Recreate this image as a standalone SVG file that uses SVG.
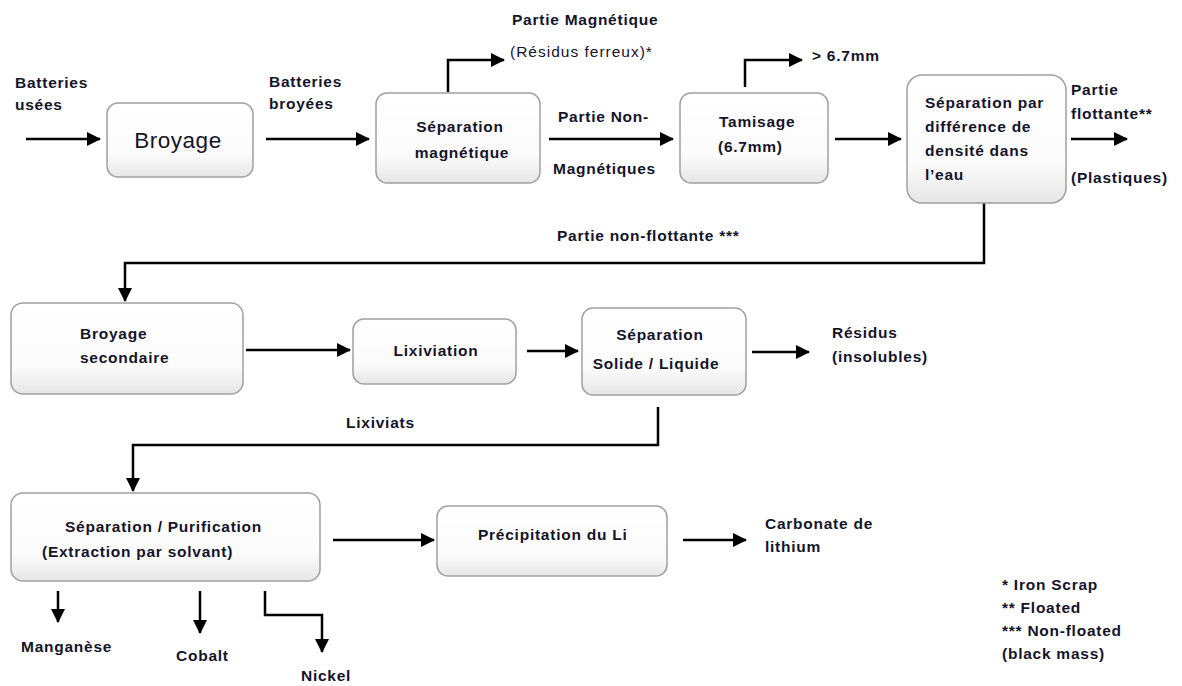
<svg xmlns="http://www.w3.org/2000/svg" width="1182" height="686" viewBox="0 0 1182 686">
<defs>
<linearGradient id="g" x1="0" y1="0" x2="0" y2="1">
<stop offset="0" stop-color="#ffffff"/>
<stop offset="0.7" stop-color="#fbfbfb"/>
<stop offset="1" stop-color="#e6e6e6"/>
</linearGradient>
<marker id="ah" markerWidth="14" markerHeight="14" viewBox="0 0 14 14" refX="13" refY="7" orient="auto" markerUnits="userSpaceOnUse">
<path d="M0,0 L14,7 L0,14 Z" fill="#000"/>
</marker>
</defs>
<style>
.box{fill:url(#g);stroke:#a0a0a0;stroke-width:1.5}
.t{font-family:"Liberation Sans",Arial,sans-serif;font-weight:bold;font-size:15.5px;letter-spacing:0.75px;fill:#14142a}
.n{font-weight:normal}
.c{text-anchor:middle}
.ln{fill:none;stroke:#000;stroke-width:2.5}
</style>
<rect width="1182" height="686" fill="#fff"/>

<g id="connectors">
<path class="ln" d="M26,139 H100" marker-end="url(#ah)"/>
<path class="ln" d="M266,139 H369" marker-end="url(#ah)"/>
<path class="ln" d="M448,92 V60 H504" marker-end="url(#ah)"/>
<path class="ln" d="M549,139 H673" marker-end="url(#ah)"/>
<path class="ln" d="M745,87 V60 H802" marker-end="url(#ah)"/>
<path class="ln" d="M835,139 H901" marker-end="url(#ah)"/>
<path class="ln" d="M1071,139 H1127" marker-end="url(#ah)"/>
<path class="ln" d="M984,203 V263 H125 V301" marker-end="url(#ah)"/>
<path class="ln" d="M246,350 H350" marker-end="url(#ah)"/>
<path class="ln" d="M527,351 H578" marker-end="url(#ah)"/>
<path class="ln" d="M752,352 H809" marker-end="url(#ah)"/>
<path class="ln" d="M658,407 V445 H133 V491" marker-end="url(#ah)"/>
<path class="ln" d="M333,540 H434" marker-end="url(#ah)"/>
<path class="ln" d="M683,540 H746" marker-end="url(#ah)"/>
<path class="ln" d="M58,591 V622" marker-end="url(#ah)"/>
<path class="ln" d="M200,591 V633" marker-end="url(#ah)"/>
<path class="ln" d="M265,591 V615 H322 V652" marker-end="url(#ah)"/>
</g>

<g id="broyage">
<rect class="box" x="107" y="103" width="146" height="74" rx="11"/>
<text class="t n c" x="178" y="148" style="font-size:22.5px;letter-spacing:0.5px">Broyage</text>
</g>
<g id="sep-mag">
<rect class="box" x="376" y="93" width="164" height="90" rx="11"/>
<text class="t c" x="460" y="132">Séparation</text>
<text class="t c" x="462" y="158">magnétique</text>
</g>
<g id="tamisage">
<rect class="box" x="680" y="93" width="148" height="90" rx="11"/>
<text class="t" x="719" y="127">Tamisage</text>
<text class="t" x="718" y="152">(6.7mm)</text>
</g>
<g id="sep-densite">
<rect class="box" x="907" y="75" width="159" height="128" rx="15"/>
<text class="t" x="925" y="108">Séparation par</text>
<text class="t" x="925" y="132">différence de</text>
<text class="t" x="925" y="156">densité dans</text>
<text class="t" x="925" y="180">l’eau</text>
</g>
<g id="broyage-sec">
<rect class="box" x="11" y="303" width="232" height="91" rx="12"/>
<text class="t" x="80" y="339">Broyage</text>
<text class="t" x="80" y="363">secondaire</text>
</g>
<g id="lixiviation">
<rect class="box" x="353" y="319" width="163" height="65" rx="11"/>
<text class="t c" x="436" y="356">Lixiviation</text>
</g>
<g id="sep-sl">
<rect class="box" x="582" y="308" width="164" height="87" rx="11"/>
<text class="t c" x="660" y="340">Séparation</text>
<text class="t c" x="656" y="369">Solide / Liquide</text>
</g>
<g id="sep-purif">
<rect class="box" x="11" y="493" width="309" height="88" rx="12"/>
<text class="t" x="65" y="532">Séparation / Purification</text>
<text class="t" x="42" y="557">(Extraction par solvant)</text>
</g>
<g id="precip">
<rect class="box" x="437" y="506" width="230" height="70" rx="11"/>
<text class="t" x="478" y="540">Précipitation du Li</text>
</g>

<g id="labels">
<text class="t" x="15" y="88">Batteries</text>
<text class="t" x="15" y="110">usées</text>
<text class="t" x="269" y="87">Batteries</text>
<text class="t" x="269" y="109">broyées</text>
<text class="t" x="512" y="25">Partie Magnétique</text>
<text class="t n" x="510" y="57" style="letter-spacing:1px">(Résidus ferreux)*</text>
<text class="t" x="558" y="122">Partie Non-</text>
<text class="t" x="553" y="174">Magnétiques</text>
<text class="t" x="812" y="61">&gt; 6.7mm</text>
<text class="t" x="1071" y="95">Partie</text>
<text class="t" x="1071" y="119">flottante**</text>
<text class="t" x="1071" y="183">(Plastiques)</text>
<text class="t" x="557" y="241">Partie non-flottante ***</text>
<text class="t" x="832" y="338">Résidus</text>
<text class="t" x="832" y="362">(insolubles)</text>
<text class="t" x="346" y="428">Lixiviats</text>
<text class="t" x="765" y="529">Carbonate de</text>
<text class="t" x="765" y="552">lithium</text>
<text class="t" x="21" y="652">Manganèse</text>
<text class="t" x="176" y="661">Cobalt</text>
<text class="t" x="301" y="681">Nickel</text>
</g>
<g id="legend">
<text class="t" x="1002" y="590">* Iron Scrap</text>
<text class="t" x="1002" y="613">** Floated</text>
<text class="t" x="1002" y="636">*** Non-floated</text>
<text class="t" x="1002" y="659">(black mass)</text>
</g>
</svg>
